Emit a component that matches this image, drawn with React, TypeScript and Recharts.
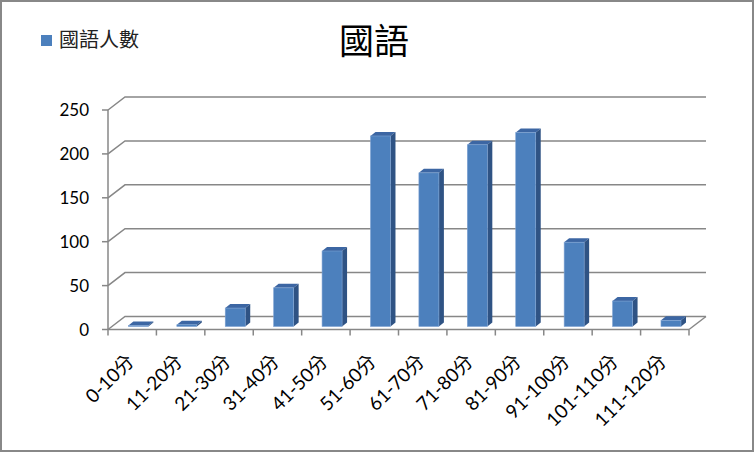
import React from 'react';
import { BarChart, Bar, XAxis, YAxis, CartesianGrid } from 'recharts';

const categories = ['0-10分', '11-20分', '21-30分', '31-40分', '41-50分', '51-60分', '61-70分', '71-80分', '81-90分', '91-100分', '101-110分', '111-120分'];
const counts = [1, 2, 21, 44, 86, 217, 175, 207, 221, 96, 29, 7];
const yTicks = [0, 50, 100, 150, 200, 250];
const seriesName = '國語人數';
const title = '國語';

const data = categories.map((c, i) => ({ name: c, value: counts[i] }));

const W = 754;
const H = 452;
const M = { top: 110, right: 65, bottom: 42.5, left: 0 };
const Y_W = 108;
const X_H = 80;
const BAND = (W - M.left - M.right - Y_W) / categories.length;
const DX = 17;
const DY = -13;
const GRID = '#878787';
const FONT = "Lato, 'Noto Sans CJK TC', sans-serif";

const FRONT = '#4c80bd';
const TOP = '#3c66a3';
const SIDE = '#2f5384';

const Bar3D = (p: any) => {
  const { x, y, width, height } = p;
  if (x == null || y == null) return null;
  const fx = x + 6.4;
  const fy = y - 3;
  const h = Math.max(height, 0);
  const bd = 5;
  const bh = -4;
  return (
    <g>
      <path d={`M${fx},${fy} L${fx + bd},${fy + bh} L${fx + width + bd},${fy + bh} L${fx + width},${fy} Z`} fill={TOP} />
      <path d={`M${fx + width},${fy} L${fx + width + bd},${fy + bh} L${fx + width + bd},${fy + h + bh} L${fx + width},${fy + h} Z`} fill={SIDE} />
      <rect x={fx} y={fy} width={width} height={h} fill={FRONT} stroke="#7ea2d2" strokeWidth={0.6} />
    </g>
  );
};

const gridLine = (props: any) => {
  const { x1, y1, x2, key, index, y, height } = props;
  const isBottom = y != null && height != null ? Math.abs(y1 - (y + height)) < 1 : index === 0;
  return (
    <g key={key}>
      <path d={`M${x1},${y1} L${x1 + DX},${y1 + DY} L${x2 + DX},${y1 + DY}`} fill="none" stroke={GRID} strokeWidth={1.5} />
      {isBottom && <path d={`M${x2},${y1} L${x2 + DX},${y1 + DY}`} fill="none" stroke={GRID} strokeWidth={1.5} />}
    </g>
  );
};

const XTick = (p: any) => {
  const { x, y, payload, index } = p;
  const tx = x + 3;
  const ty = y + 33;
  return (
    <g>
      <line x1={x - BAND / 2} y1={y} x2={x - BAND / 2} y2={y + 6} stroke={GRID} strokeWidth={1.5} />
      {index === categories.length - 1 && (
        <line x1={x + BAND / 2} y1={y} x2={x + BAND / 2} y2={y + 6} stroke={GRID} strokeWidth={1.5} />
      )}
      <text x={tx} y={ty} textAnchor="end" transform={`rotate(-45, ${tx}, ${ty})`} fontSize={19} fontFamily={FONT} fill="#000">
        {payload.value}
      </text>
    </g>
  );
};

export default function App() {
  return (
    <div style={{ position: 'absolute', left: 0, top: 0, width: W, height: H, background: '#fff' }}>
      <BarChart width={W} height={H} data={data} margin={M} barSize={20}>
        <CartesianGrid vertical={false} horizontal={gridLine} />
        <XAxis
          dataKey="name"
          height={X_H}
          interval={0}
          tickLine={false}
          tickSize={0}
          tickMargin={0}
          axisLine={{ stroke: GRID, strokeWidth: 1.5 }}
          tick={<XTick />}
        />
        <YAxis
          width={Y_W}
          domain={[0, 250]}
          ticks={yTicks}
          interval={0}
          tickSize={6}
          tickMargin={13}
          axisLine={{ stroke: GRID, strokeWidth: 1.5 }}
          tickLine={{ stroke: GRID, strokeWidth: 1.5 }}
          tick={{ fontSize: 17, fontFamily: FONT, fill: '#000' }}
        />
        <Bar dataKey="value" name={seriesName} fill={FRONT} shape={<Bar3D />} isAnimationActive={false} />
      </BarChart>
      <svg width={W} height={80} style={{ position: 'absolute', left: 0, top: 0, pointerEvents: 'none' }}>
        <rect x={41} y={35} width={11} height={11} fill={FRONT} />
        <text x={59} y={47} fontSize={20} fontFamily="'Noto Sans CJK TC', sans-serif" fill="#222">
          {seriesName}
        </text>
        <text x={374} y={54} textAnchor="middle" fontSize={35} fontFamily="'Noto Sans CJK TC', sans-serif" fill="#000">
          {title}
        </text>
      </svg>
      <div style={{ position: 'absolute', left: 0, top: 0, width: W, height: H, boxSizing: 'border-box', border: '2px solid #888', pointerEvents: 'none' }} />
    </div>
  );
}
